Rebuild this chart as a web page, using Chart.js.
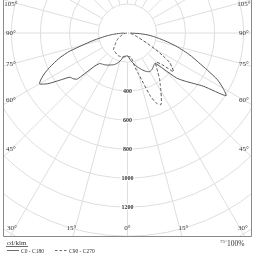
<!DOCTYPE html>
<html><head><meta charset="utf-8">
<script src="https://cdn.jsdelivr.net/npm/chart.js@4.4.1/dist/chart.umd.min.js"></script>
<style>html,body{margin:0;padding:0;background:#fff}canvas{display:block}</style>
</head><body>
<canvas id="c" width="254" height="257"></canvas>
<script>
// gamma angles (deg from nadir)
const gammaAngles = [0,2.5,5,7.5,10,12.5,15,17.5,20,22.5,25,27.5,30,32.5,35,37.5,40,42.5,45,47.5,50,52.5,55,57.5,60,62.5,65,67.5,70,72.5,75,77.5,80,82.5,85,87.5,90];
// intensities cd/klm
const c0Values   = [157,165,180,195,208,222,237,250,263,277,290,300,307,305,300,292,285,282,350,460,515,570,640,805,760,700,610,530,470,405,345,282,225,180,135,80,20];
const c180Values = [157,158,160,162,166,185,200,214,225,235,242,248,255,262,268,273,278,285,330,470,490,500,565,650,700,665,615,555,495,420,318,250,185,140,95,55,20];
const c90Values  = [160,162,164,166,185,245,290,360,465,525,545,505,460,420,385,345,312,288,285,320,415,385,355,285,215,150,110,82,65,52,42,33,25,18,12,8,5];
const c270Values = [160,162,164,166,167,168,169,169,169,168,167,163,160,157,155,153,150,138,125,115,105,97,90,82,74,62,55,48,42,36,30,25,20,15,11,7,4];
const ringValues = [200,400,600,800,1000,1200,1400,1600,1800,2000];
const ringLabels = ['400','600','800','1000','1200'];
const spokeAngles = [0,15,30,45,60,75,90,105,120,135,150,165,180];
const seriesNames = ['C0 - C180','C90 - C270'];

function toXY(rightVals, leftVals){
  const pts=[];
  for(let i=gammaAngles.length-1;i>=0;i--){
    const g=gammaAngles[i]*Math.PI/180;
    pts.push({x:-leftVals[i]*Math.sin(g), y:-leftVals[i]*Math.cos(g)});
  }
  for(let i=0;i<gammaAngles.length;i++){
    const g=gammaAngles[i]*Math.PI/180;
    pts.push({x:rightVals[i]*Math.sin(g), y:-rightVals[i]*Math.cos(g)});
  }
  return pts;
}

const FONT='"Liberation Serif", "DejaVu Serif", serif';
const gridPlugin={
  id:'polarGrid',
  beforeDatasetsDraw(chart){
    const {ctx,chartArea:a,scales:{x,y}}=chart;
    const cx=x.getPixelForValue(0), cy=y.getPixelForValue(0);
    const k=(x.getPixelForValue(1000)-cx)/1000;
    ctx.save();
    ctx.beginPath();ctx.rect(a.left,a.top,a.right-a.left,a.bottom-a.top);ctx.clip();
    ctx.strokeStyle='#dedede';ctx.lineWidth=1;
    ringValues.forEach(v=>{ctx.beginPath();ctx.arc(cx,cy,v*k,0,Math.PI*2);ctx.stroke();});
    const r0=ringValues[0]*k, r1=ringValues[ringValues.length-1]*k;
    spokeAngles.forEach(d=>{
      const g=d*Math.PI/180;
      [1,-1].forEach(s=>{
        ctx.beginPath();
        ctx.moveTo(cx+s*Math.sin(g)*r0, cy+Math.cos(g)*r0);
        ctx.lineTo(cx+s*Math.sin(g)*r1, cy+Math.cos(g)*r1);
        ctx.stroke();
      });
    });
    ctx.restore();
  },
  afterDraw(chart){
    const {ctx,chartArea:a,scales:{x,y}}=chart;
    const cx=x.getPixelForValue(0), cy=y.getPixelForValue(0);
    const k=(x.getPixelForValue(1000)-cx)/1000;
    ctx.save();
    // frame
    ctx.strokeStyle='#8a8a8a';ctx.lineWidth=1;
    ctx.beginPath();
    ctx.moveTo(Math.round(a.left)+0.5,a.top);ctx.lineTo(Math.round(a.left)+0.5,Math.round(a.bottom)+0.5);
    ctx.lineTo(Math.round(a.right)-0.5,Math.round(a.bottom)+0.5);ctx.lineTo(Math.round(a.right)-0.5,a.top);
    ctx.stroke();
    // ring labels
    ctx.font='bold 6px '+FONT;ctx.textAlign='center';ctx.textBaseline='middle';
    ringLabels.forEach(t=>{
      const yy=cy+Number(t)*k;
      const w=ctx.measureText(t).width;
      ctx.fillStyle='#fff';ctx.fillRect(cx-w/2-1,yy-3,w+2,6);
      ctx.fillStyle='#333';ctx.fillText(t,cx,yy);
    });
    // angle labels
    ctx.font='7px '+FONT;ctx.fillStyle='#333';
    const xin=8;
    [45,60,75,90,105].forEach(d=>{
      const g=d*Math.PI/180;
      const dx=cx-(a.left+xin);
      let yy=cy+dx/Math.tan(g);
      yy=Math.max(yy,a.top+4);
      ctx.fillText(d+'°',a.left+xin,yy);
      ctx.fillText(d+'°',a.right-xin,yy);
    });
    [0,15,30].forEach(d=>{
      const g=d*Math.PI/180;
      const yy=a.bottom-8;
      const dx=(a.bottom+6-cy)*Math.tan(g);
      let xl=Math.max(cx-dx,a.left+9), xr=Math.min(cx+dx,a.right-9);
      ctx.fillText(d+'°',xl,yy);
      if(d>0) ctx.fillText(d+'°',xr,yy);
    });
    // legend
    ctx.textAlign='left';
    ctx.font='7px '+FONT;ctx.fillStyle='#333';
    ctx.fillText('cd/klm',a.left+4,243);
    ctx.strokeStyle='#444';ctx.lineWidth=0.8;
    ctx.beginPath();ctx.moveTo(a.left+3,246.5);ctx.lineTo(a.left+25,246.5);ctx.stroke();
    ctx.font='5.5px '+FONT;
    ctx.beginPath();ctx.moveTo(a.left+4,250.5);ctx.lineTo(a.left+16,250.5);ctx.stroke();
    ctx.fillText(seriesNames[0],a.left+18,251.5);
    ctx.setLineDash([2.5,2]);
    ctx.beginPath();ctx.moveTo(a.left+52,250.5);ctx.lineTo(a.left+64,250.5);ctx.stroke();
    ctx.setLineDash([]);
    ctx.fillText(seriesNames[1],a.left+66,251.5);
    // right bottom
    ctx.font='5px '+FONT;
    ctx.fillText('75°',a.right-32,242);
    ctx.font='7.5px '+FONT;
    ctx.fillText('100%',a.right-25,244.5);
    ctx.restore();
  }
};

new Chart(document.getElementById('c'),{
  type:'scatter',
  data:{datasets:[
    {label:seriesNames[0],data:toXY(c0Values,c180Values),showLine:true,borderColor:'#555',borderWidth:1,pointRadius:0,tension:0.2,fill:false},
    {label:seriesNames[1],data:toXY(c90Values,c270Values),showLine:true,borderColor:'#555',borderWidth:1,borderDash:[3,2],pointRadius:0,tension:0.2,fill:false}
  ]},
  options:{
    responsive:false,animation:false,
    layout:{padding:{left:3,right:2,top:0,bottom:21}},
    plugins:{legend:{display:false},tooltip:{enabled:false}},
    scales:{
      x:{type:'linear',min:-858,max:858,display:false},
      y:{type:'linear',min:-1400,max:228,display:false}
    }
  },
  plugins:[gridPlugin]
});
</script>
</body></html>
